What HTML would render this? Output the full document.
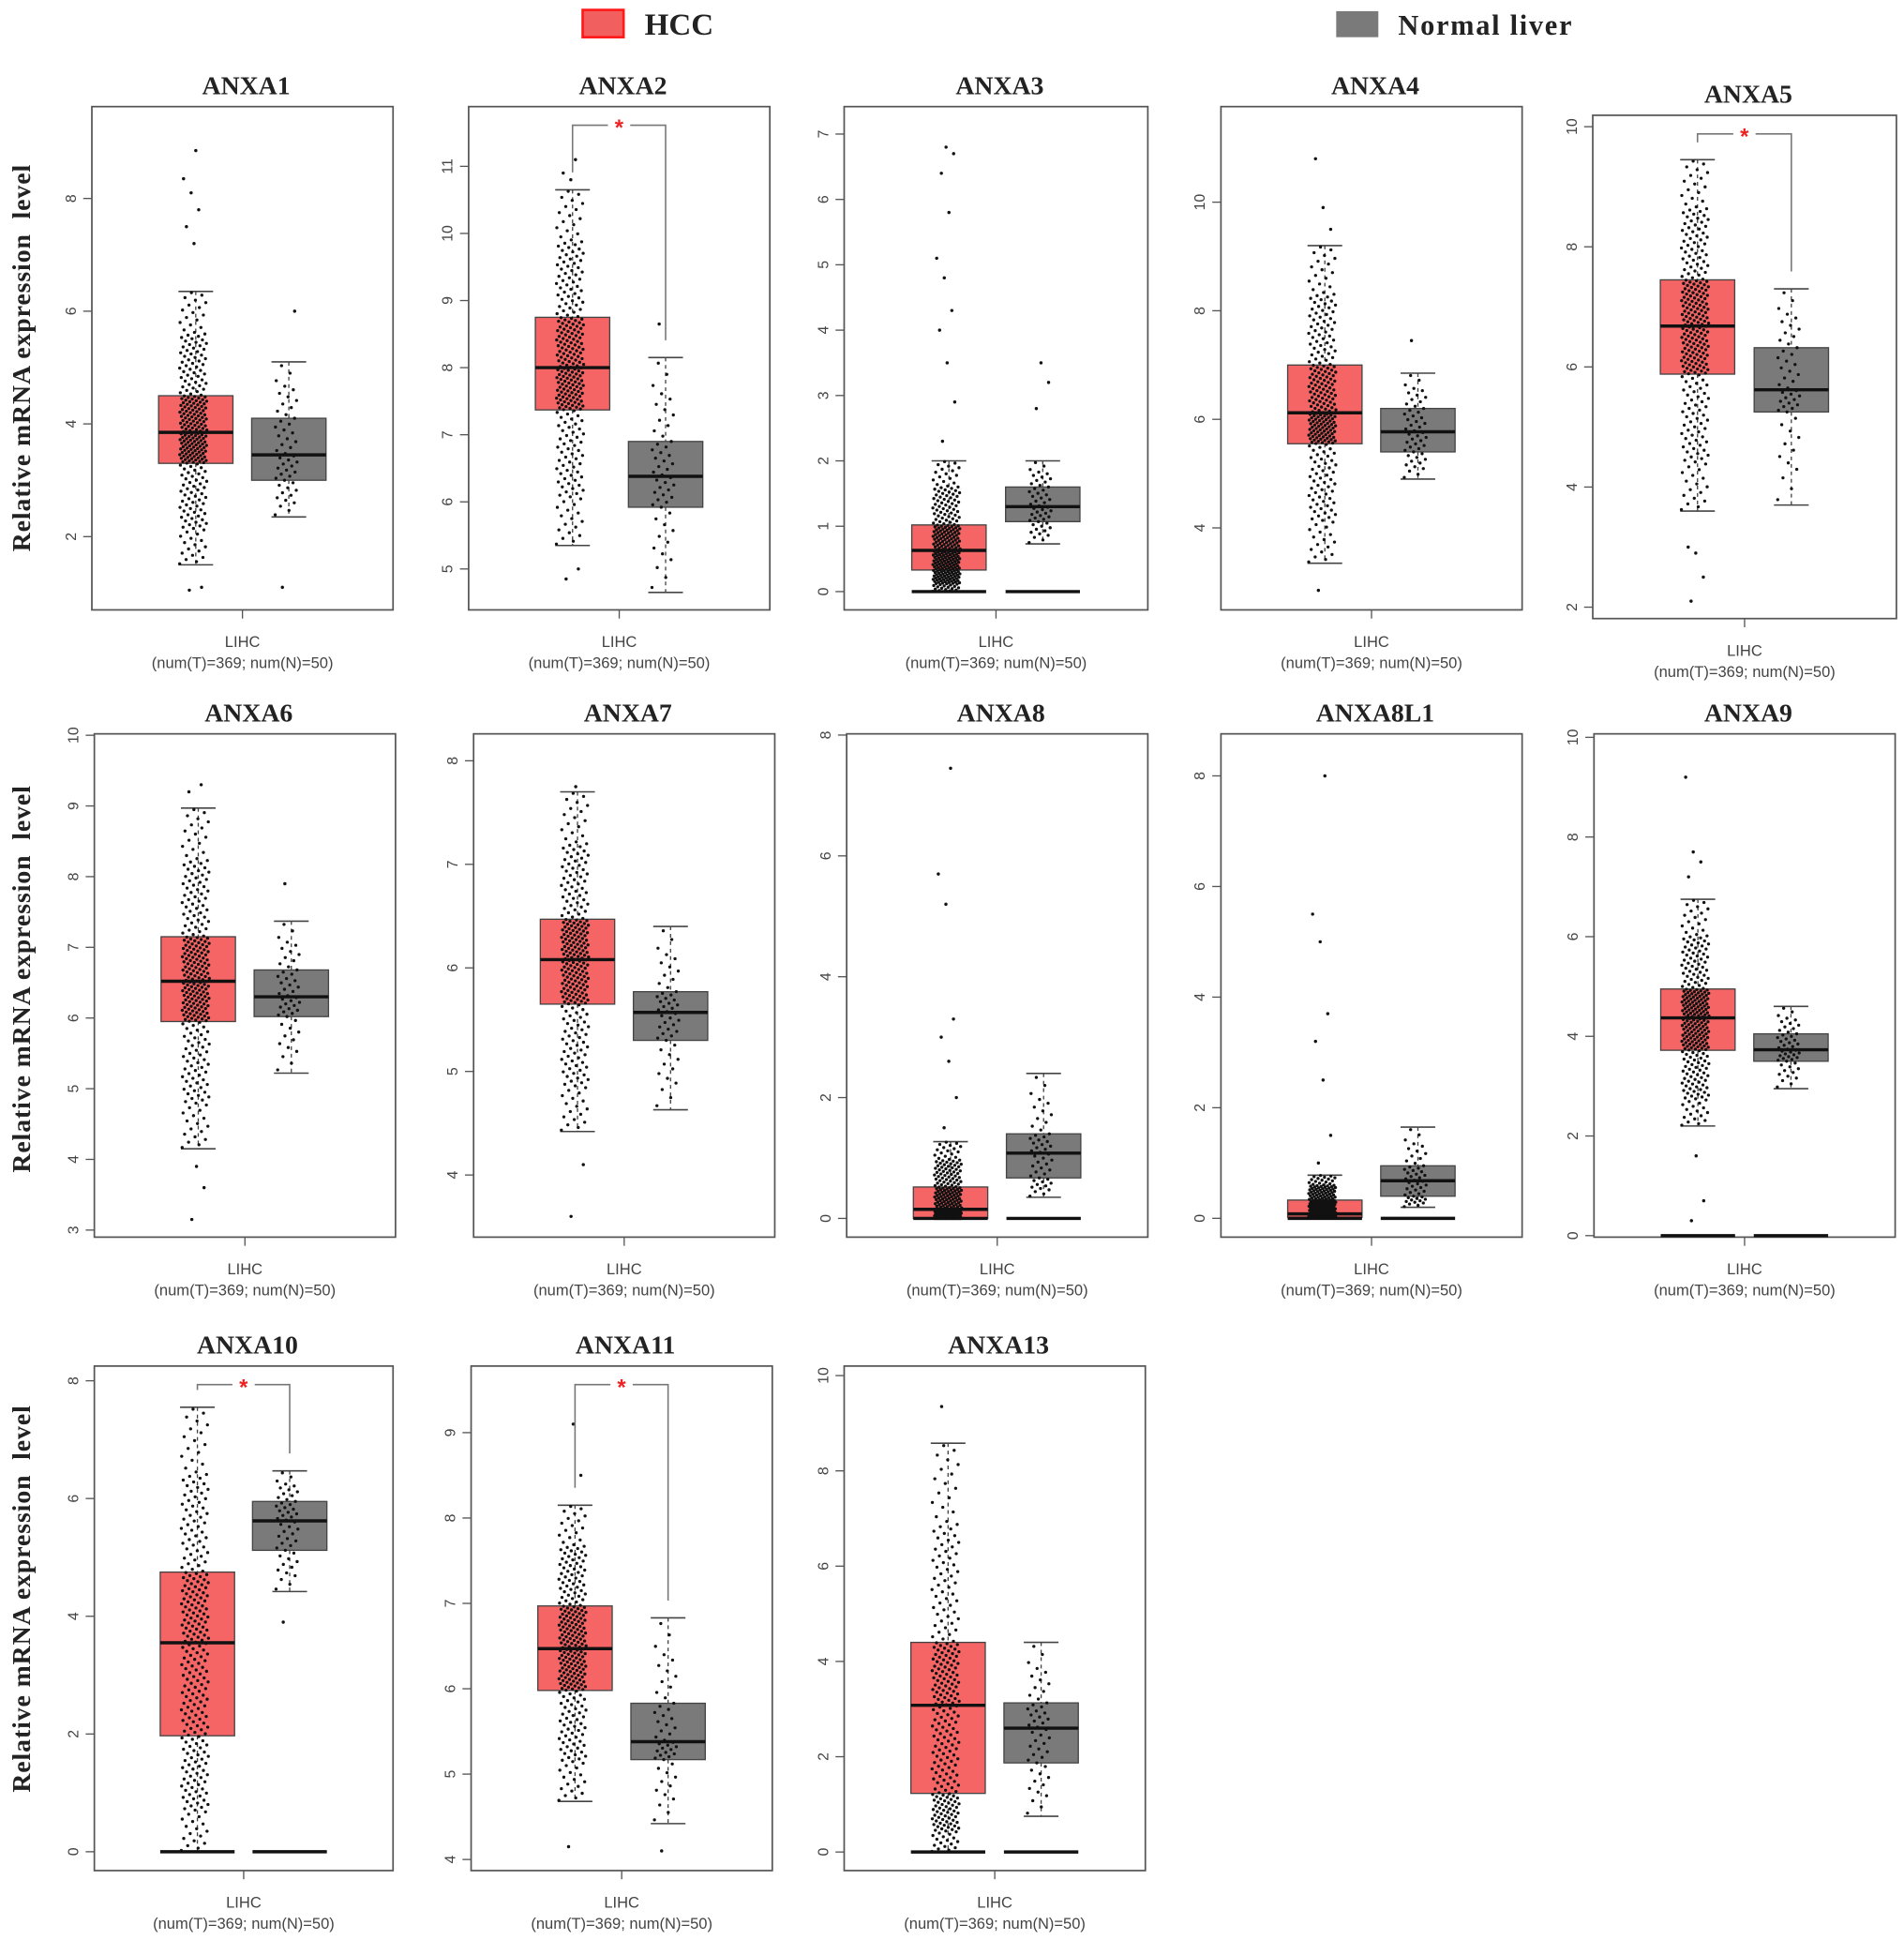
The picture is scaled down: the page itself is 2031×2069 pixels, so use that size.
<!DOCTYPE html>
<html><head><meta charset="utf-8">
<style>
html,body{margin:0;padding:0;background:#fff;}
svg{display:block;}
</style></head>
<body>
<svg id="fig" width="2031" height="2069" viewBox="0 0 1536 1565" xmlns="http://www.w3.org/2000/svg">
  <g>
    <g>
      <rect x="470" y="8" width="33" height="22" fill="#f25f5f" stroke="#ff1a1a" stroke-width="2"/>
      <text x="520" y="28" font-family="Liberation Serif, serif" font-weight="bold" font-size="25" fill="#222">HCC</text>
    </g>
    <g>
      <rect x="1078" y="9" width="34" height="21" fill="#7a7a7a"/>
      <text x="1128" y="28" font-family="Liberation Serif, serif" font-weight="bold" font-size="23" fill="#222" textLength="140">Normal liver</text>
    </g>
  </g>
  <g id="panels"></g>
</svg>
<script>
// ---- data arrays ----
const genes = ["ANXA1","ANXA2","ANXA3","ANXA4","ANXA5","ANXA6","ANXA7","ANXA8","ANXA8L1","ANXA9","ANXA10","ANXA11","ANXA13"];
// HCC box stats: [whiskerLow, q1, median, q3, whiskerHigh]
const hccStats = [
 [1.5,3.3,3.85,4.5,6.35],[5.35,7.37,8.0,8.75,10.65],[0,0.33,0.63,1.02,2.0],[3.35,5.55,6.12,7.0,9.2],
 [3.6,5.88,6.68,7.45,9.45],[4.15,5.95,6.52,7.15,8.97],[4.42,5.65,6.08,6.47,7.7],[0,0.0,0.15,0.52,1.27],
 [0,0.02,0.08,0.33,0.78],[2.2,3.72,4.37,4.95,6.75],[0,1.97,3.55,4.75,7.55],[4.68,5.98,6.47,6.97,8.15],[0,1.23,3.08,4.4,8.58]];
const normalStats = [
 [2.35,3.0,3.45,4.1,5.1],[4.65,5.92,6.38,6.9,8.15],[0.73,1.07,1.3,1.6,2.0],[4.9,5.4,5.77,6.2,6.85],
 [3.7,5.25,5.62,6.32,7.3],[5.22,6.02,6.3,6.68,7.37],[4.63,5.3,5.57,5.77,6.4],[0.35,0.67,1.08,1.4,2.4],
 [0.2,0.4,0.68,0.95,1.65],[2.95,3.5,3.73,4.05,4.6],[4.42,5.12,5.62,5.95,6.47],[4.42,5.17,5.38,5.83,6.83],[0.75,1.87,2.6,3.13,4.4]];
const hccOutliers = [[1.05,1.1,7.2,7.5,7.8,8.1,8.35,8.85],[4.85,5.0,10.8,10.9,11.1],[2.3,2.9,3.5,4.0,4.3,4.8,5.1,5.8,6.4,6.7,6.8],[2.85,9.5,9.9,10.8],[2.1,2.5,2.9,3.0],[3.15,3.6,3.9,9.2,9.3],[3.6,4.1,7.75],[1.5,2.0,2.6,3.0,3.3,5.2,5.7,7.45],[1.0,1.5,2.5,3.2,3.7,5.0,5.5,8.0],[0.3,0.7,1.6,7.2,7.5,7.7,9.2],[],[4.15,8.5,9.1],[9.35]];
const normalOutliers = [[1.1,6.0],[8.65],[2.8,3.2,3.5],[7.45],[],[7.9],[],[],[],[],[3.9],[4.1],[]];
const yTicks = [[2,4,6,8],[5,6,7,8,9,10,11],[0,1,2,3,4,5,6,7],[4,6,8,10],[2,4,6,8,10],[3,4,5,6,7,8,9,10],[4,5,6,7,8],[0,2,4,6,8],[0,2,4,6,8],[0,2,4,6,8,10],[0,2,4,6,8],[4,5,6,7,8,9],[0,2,4,6,8,10]];
const significant = [false,true,false,false,true,false,false,false,false,false,true,true,false];
const zeroLine = [false,false,true,false,false,false,false,true,true,true,true,false,true];

// ---- layout (axis domains + frame positions) ----
const domains = [[0.70,9.63],[4.39,11.89],[-0.28,7.42],[2.49,11.76],[1.81,10.19],[2.9,10.02],[3.40,8.26],[-0.31,8.02],[-0.34,8.76],[-0.03,10.07],[-0.32,8.25],[3.87,9.78],[-0.39,10.2]];
const frames = [[74,86,243,406],[378,86,243,406],[681,86,245,406],[985,86,243,406],[1285,93,245,406],
 [76,592,243,406],[382,592,243,406],[683,592,243,406],[985,592,243,406],[1286,592,243,406],
 [76,1102,241,407],[380,1102,243,407],[681,1102,243,407]];

const NS="http://www.w3.org/2000/svg";
const root=document.getElementById('panels');
function mk(tag,attrs,parent){const e=document.createElementNS(NS,tag);for(const k in attrs)e.setAttribute(k,attrs[k]);parent.appendChild(e);return e;}

function quant(st,p){
  const ps=[0,0.06,0.25,0.5,0.75,0.94,1];
  const lo=st[0], hi=st[4];
  const vs=[lo,lo+(st[1]-lo)*0.35,st[1],st[2],st[3],st[3]+(hi-st[3])*0.6,hi];
  for(let i=1;i<ps.length;i++){ if(p<=ps[i]){const t=(p-ps[i-1])/(ps[i]-ps[i-1]);return vs[i-1]+t*(vs[i]-vs[i-1]);} }
  return hi;
}

genes.forEach((g,i)=>{
  const [fx,fy,fw,fh]=frames[i];
  const [d0,d1]=domains[i];
  const y=v=>fy+fh-(v-d0)/(d1-d0)*fh;
  const pg=mk('g',{},root);
  
  
  const t=mk('text',{x:fx+fw/2+3,y:fy-10,'text-anchor':'middle','font-family':'Liberation Serif, serif','font-weight':'bold','font-size':'21',fill:'#222'},pg);
  t.textContent=g;
  
  
  const fr=mk('rect',{x:fx,y:fy,width:fw,height:fh,fill:'none',stroke:'#555','stroke-width':1.3},pg);
  
  
  const ax=mk('g',{},pg);
  
  
  yTicks[i].forEach(v=>{
    const yy=y(v);
    mk('line',{x1:fx-7,x2:fx,y1:yy,y2:yy,stroke:'#555','stroke-width':1},ax);
    const tl=mk('text',{x:0,y:0,transform:`translate(${fx-13},${yy}) rotate(-90)`,'text-anchor':'middle','font-family':'Liberation Sans, sans-serif','font-size':'12',fill:'#444'},ax);
    tl.textContent=v;
    
    
  });
  const cx=fx+fw*0.5;
  mk('line',{x1:cx,x2:cx,y1:fy+fh,y2:fy+fh+7,stroke:'#555','stroke-width':1},pg);
  const l1=mk('text',{x:cx,y:fy+fh+30,'text-anchor':'middle','font-family':'Liberation Sans, sans-serif','font-size':'12.5',fill:'#444'},pg);
  l1.textContent='LIHC';
  
  
  const l2=mk('text',{x:cx,y:fy+fh+47,'text-anchor':'middle','font-family':'Liberation Sans, sans-serif','font-size':'12.5',fill:'#444'},pg);
  l2.textContent='(num(T)=369; num(N)=50)';
  
  
  const groups=[{st:hccStats[i],out:hccOutliers[i],c:fx+fw*0.345,fill:'#f56565',n:280,name:'hcc'},
                {st:normalStats[i],out:normalOutliers[i],c:fx+fw*0.654,fill:'#7a7a7a',n:50,name:'normal'}];
  const bw=60;
  groups.forEach(gr=>{
    const bg=mk('g',{},pg);
    
    
    const s=gr.st;
    mk('line',{x1:gr.c,x2:gr.c,y1:y(s[4]),y2:y(s[3]),stroke:'#444','stroke-width':1,'stroke-dasharray':'3,3'},bg);
    mk('line',{x1:gr.c,x2:gr.c,y1:y(s[1]),y2:y(s[0]),stroke:'#444','stroke-width':1,'stroke-dasharray':'3,3'},bg);
    mk('line',{x1:gr.c-14,x2:gr.c+14,y1:y(s[4]),y2:y(s[4]),stroke:'#444','stroke-width':1.2},bg);
    mk('line',{x1:gr.c-14,x2:gr.c+14,y1:y(s[0]),y2:y(s[0]),stroke:'#444','stroke-width':1.2},bg);
    mk('rect',{x:gr.c-bw/2,y:y(s[3]),width:bw,height:Math.max(1,y(s[1])-y(s[3])),fill:gr.fill,stroke:'#444','stroke-width':1},bg);
    mk('line',{x1:gr.c-bw/2,x2:gr.c+bw/2,y1:y(s[2]),y2:y(s[2]),stroke:'#111','stroke-width':2.6},bg);
    if(zeroLine[i]) mk('line',{x1:gr.c-bw/2,x2:gr.c+bw/2,y1:y(0),y2:y(0),stroke:'#111','stroke-width':2.6},bg);
    const pts=mk('g',{fill:'#111'},bg);
    
    
    for(let k=0;k<gr.n;k++){
      const p=(k+0.5)/gr.n;
      const v=quant(s,p);
      const jx=((k*0.618034)%1-0.5)*(gr.name==='hcc'?22:18);
      mk('circle',{cx:gr.c-2+jx,cy:y(v),r:1.25},pts);
    }
    gr.out.forEach((v,k)=>{
      const jx=((k*0.618034+0.3)%1-0.5)*16;
      mk('circle',{cx:gr.c-2+jx,cy:y(v),r:1.3},pts);
    });
  });
  if(significant[i]){
    const b=mk('g',{},pg);
    
    
    const h=groups[0],n=groups[1];
    const top=fy+15;
    const y1=y(h.st[4])-14, y2=y(n.st[4])-14;
    mk('polyline',{points:`${h.c},${y1} ${h.c},${top} ${h.c+(n.c-h.c)/2-9},${top}`,fill:'none',stroke:'#777','stroke-width':1.2},b);
    mk('polyline',{points:`${h.c+(n.c-h.c)/2+9},${top} ${n.c},${top} ${n.c},${y2}`,fill:'none',stroke:'#777','stroke-width':1.2},b);
    const st=mk('text',{x:h.c+(n.c-h.c)/2,y:top+8,'text-anchor':'middle','font-family':'Liberation Sans, sans-serif','font-weight':'bold','font-size':'18',fill:'#ee2222'},b);
    st.textContent='*';
    
    
  }
});
[289,790,1290].forEach(cy=>{
  const t=mk('text',{x:0,y:0,transform:`translate(24,${cy}) rotate(-90)`,'text-anchor':'middle','font-family':'Liberation Serif, serif','font-weight':'bold','font-size':'21',fill:'#222',style:'white-space:pre',textLength:'312',lengthAdjust:'spacing'},root);
  t.textContent='Relative mRNA expression  level';
  
  
});
</script>
</body></html>
